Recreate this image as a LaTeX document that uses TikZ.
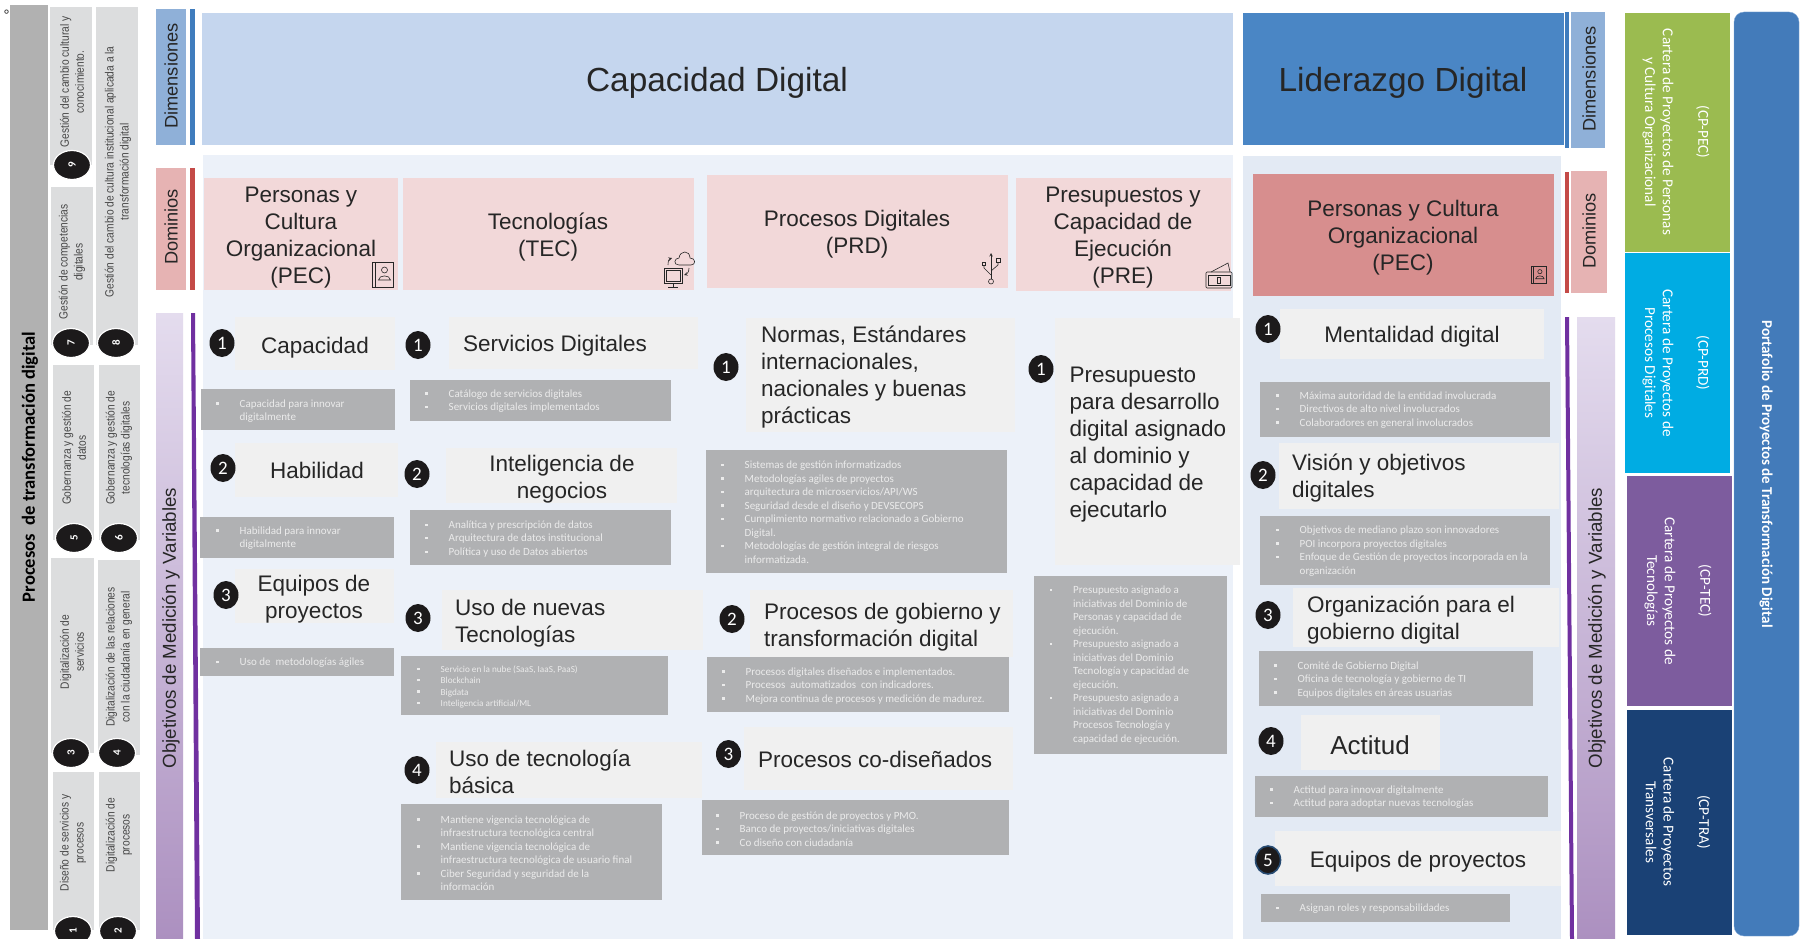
\documentclass[tikz,border=0pt]{standalone}
\usepackage{fontspec}
\usepackage{tikz}
\usetikzlibrary{shapes.geometric}
\setmainfont{Liberation Sans}
\newfontfamily\carlito{Carlito}
\newfontfamily\narrowfont[FakeStretch=0.85]{Liberation Sans}

\definecolor{inkdark}{HTML}{262626}
\definecolor{dimblue}{HTML}{8FB0D8}
\definecolor{dimbar}{HTML}{3F7CBD}
\definecolor{dompink}{HTML}{E6B3B3}
\definecolor{dombar}{HTML}{C44A47}
\definecolor{objbar}{HTML}{7030A0}
\definecolor{objtop}{HTML}{E4DCEE}
\definecolor{objbottom}{HTML}{AC90C0}
\definecolor{capheader}{HTML}{C5D6EE}
\definecolor{lidheader}{HTML}{4A86C5}
\definecolor{cappanel}{HTML}{ECF1F9}
\definecolor{lidpanel}{HTML}{E3EAF4}
\definecolor{pinkbox}{HTML}{F2D8D9}
\definecolor{rosebox}{HTML}{D78E8E}
\definecolor{titlegray}{HTML}{F0F0F0}
\definecolor{listgray}{HTML}{B0B1B3}
\definecolor{procgray}{HTML}{B1B1B1}
\definecolor{stepgray}{HTML}{DCDDDE}
\definecolor{numblack}{HTML}{1C1A1B}
\definecolor{cpgreen}{HTML}{9BBB50}
\definecolor{cpcyan}{HTML}{00ACE3}
\definecolor{cpviolet}{HTML}{7D5C9E}
\definecolor{cpnavy}{HTML}{1A4175}
\definecolor{portblue}{HTML}{437BBA}
\definecolor{portedge}{HTML}{7FA8D8}

\newcommand{\bul}{\makebox[23.5pt][l]{\rule[2.5pt]{2.4pt}{2.4pt}}}
\newcommand{\ind}{\hspace*{23.5pt}}

\begin{document}
\begin{tikzpicture}[x=1pt,y=-1pt]
  \tikzset{
    sidetext/.style={rotate=90, xshift=1pt, text=inkdark, font=\fontsize{18.2}{22}\selectfont, inner sep=0pt},
    objtext/.style={sidetext, font=\fontsize{18.7}{22}\selectfont},
    headtext/.style={yshift=-3.5pt, text=inkdark, font=\fontsize{33.4}{38}\selectfont, inner sep=0pt},
    domaintext/.style={yshift=-2.5pt, text=inkdark, align=center, font=\fontsize{22.5}{27}\selectfont, inner sep=0pt},
    titletext/.style={domaintext},
    titleleft/.style={domaintext, align=left},
    listtext/.style={yshift=-1pt, anchor=west, align=left, text=white!92!black, font=\carlito\fontsize{11}{13.5}\selectfont, inner sep=0pt},
    listsmall/.style={listtext, font=\carlito\fontsize{9.2}{11.3}\selectfont},
    numdot/.style={ellipse, fill=numblack, text=white, minimum width=25pt, minimum height=28pt, inner sep=0pt, font=\carlito\fontsize{19}{19}\selectfont},
    stepdot/.style={ellipse, rotate=90, fill=numblack, draw=white, line width=1.2pt, text=white, minimum width=29pt, minimum height=37pt, inner sep=0pt, font=\carlito\bfseries\fontsize{11}{11}\selectfont},
    steptext/.style={rotate=90, align=center, text=inkdark!85, font=\narrowfont\fontsize{12}{15}\selectfont, inner sep=0pt},
    carteratext/.style={rotate=-90, align=center, text=white, font=\carlito\fontsize{15.2}{17.6}\selectfont, inner sep=0pt},
    iconline/.style={draw=black!85, line width=0.6pt, fill=none},
    bookicon/.pic={
      \draw[iconline] (0,0) rectangle (21,25);
      \draw[iconline] (3,0) -- (3,25);
      \draw[iconline] (12.5,8) circle (3);
      \draw[iconline] (6.5,18) .. controls (7,12.5) and (18,12.5) .. (18.5,18) -- cycle;
    }
  }

  \clip (0,0) rectangle (1809,939);
  \fill[white] (0,0) rectangle (1809,939);

  \node[inner sep=0pt, font=\fontsize{15}{15}\selectfont, text=inkdark] (mark) at (6.5,15) {°};

  \fill[procgray] (10,5) rectangle (48,930);
  \node[rotate=90, inner sep=0pt, text=black, font=\carlito\bfseries\fontsize{18.6}{24}\selectfont] (proc) at (30,467) {Procesos\ \ de transformación digital};

  \fill[stepgray] (50,7) rectangle (92,165);
  \fill[stepgray] (51,187) rectangle (93,345);
  \fill[stepgray] (53,365) rectangle (94,540);
  \fill[stepgray] (51,558) rectangle (94,753);
  \fill[stepgray] (53,772) rectangle (94,930);
  \fill[stepgray] (96,7) rectangle (138,345);
  \fill[stepgray] (99,365) rectangle (140,540);
  \fill[stepgray] (98,560) rectangle (140,755);
  \fill[stepgray] (99,772) rectangle (140,930);

  \node[steptext] (s9) at (72,82) {Gestión del cambio cultural y\\conocimiento.};
  \node[steptext] (s7) at (72,262) {Gestión de competencias\\digitales};
  \node[steptext] (s5) at (74,448) {Gobernanza y gestión de\\datos};
  \node[steptext] (s3) at (72,652) {Digitalización de\\servicios};
  \node[steptext] (s1) at (73,843) {Diseño de servicios y\\procesos};
  \node[steptext] (s8) at (118,172) {Gestión del cambio de cultura institucional aplicada a la\\transformación digital};
  \node[steptext] (s6) at (119,448) {Gobernanza y gestión de\\tecnologías digitales};
  \node[steptext] (s4) at (119,657) {Digitalización de las relaciones\\con la ciudadanía en general};
  \node[steptext] (s2) at (119,835) {Digitalización de\\procesos};

  \node[stepdot] (d9) at (72,165) {9};
  \node[stepdot] (d7) at (71,343) {7};
  \node[stepdot] (d5) at (74,538) {5};
  \node[stepdot] (d3) at (71,753) {3};
  \node[stepdot] (d1) at (73,931) {1};
  \node[stepdot] (d8) at (116,343) {8};
  \node[stepdot] (d6) at (119,538) {6};
  \node[stepdot] (d4) at (117,753) {4};
  \node[stepdot] (d2) at (118,931) {2};

  \fill[dimblue] (156,9) rectangle (186,145);
  \fill[dimbar] (190,9) rectangle (195,145);
  \fill[dompink] (156,168) rectangle (186,290);
  \fill[dombar] (190,168) rectangle (195,290);
  \shade[top color=objtop, bottom color=objbottom] (156,313) rectangle (183,939);
  \fill[objbar] (191,313) -- (195,313) -- (200,939) -- (195,939) -- cycle;
  \node[sidetext] (dimleft) at (171,77) {Dimensiones};
  \node[sidetext] (domleft) at (171,228) {Dominios};
  \node[objtext] (objleft) at (171,629) {Objetivos de Medición y Variables};

  \fill[capheader] (202,13) rectangle (1233,145);
  \fill[lidheader] (1243,13) rectangle (1564,145);
  \node[headtext] (capdigital) at (717,79) {Capacidad Digital};
  \node[headtext] (liddigital) at (1403,79) {Liderazgo Digital};

  \fill[dimbar] (1565,12) rectangle (1569,148);
  \fill[dimblue] (1571,12) rectangle (1605,148);
  \fill[dombar] (1565,172) rectangle (1569,293);
  \fill[dompink] (1571,171) rectangle (1607,293);
  \shade[top color=objtop, bottom color=objbottom] (1577,317) rectangle (1615,939);
  \fill[objbar] (1565,317) -- (1569,317) -- (1574,939) -- (1570,939) -- cycle;
  \node[sidetext] (dimright) at (1589,80) {Dimensiones};
  \node[sidetext] (domright) at (1589,232) {Dominios};
  \node[objtext] (objright) at (1597,629) {Objetivos de Medición y Variables};

  \fill[cappanel] (203,155) rectangle (1233,939);
  \fill[lidpanel] (1243,156) rectangle (1561,939);

  \fill[pinkbox] (204,178) rectangle (398,290);
  \fill[pinkbox] (403,178) rectangle (694,290);
  \fill[pinkbox] (707,175) rectangle (1008,288);
  \fill[pinkbox] (1016,178) rectangle (1231,291);
  \fill[rosebox] (1253,174) rectangle (1554,296);
  \node[domaintext] (pec) at (301,235) {Personas y\\Cultura\\Organizacional\\(PEC)};
  \node[domaintext] (tec) at (548,235) {Tecnologías\\(TEC)};
  \node[domaintext] (prd) at (857,232) {Procesos Digitales\\(PRD)};
  \node[domaintext] (pre) at (1123,235) {Presupuestos y\\Capacidad de\\Ejecución\\(PRE)};
  \node[domaintext] (pecl) at (1403,235) {Personas y Cultura\\Organizacional\\(PEC)};

  \pic at (372,262) {bookicon};
  \pic[scale=0.71] at (1531,266) {bookicon};
  \draw[iconline] (664,268) rectangle (682,283);
  \draw[iconline] (666,270) rectangle (680,281);
  \draw[iconline] (673,283) -- (673,287);
  \draw[iconline] (668,287) -- (678,287);
  \draw[iconline] (679,265) .. controls (673,265) and (674,258) .. (679,258) .. controls (680,250) and (690,250) .. (690,258) .. controls (696,258) and (696,265) .. (691,265) -- cycle;
  \draw[iconline, ->, >=stealth] (668,265) .. controls (668,261) and (669,259) .. (672,258);
  \draw[iconline, ->, >=stealth] (689,268) .. controls (689,272) and (687,274) .. (684,275);
  \draw[iconline, ->, >=stealth] (991,279) -- (991,253);
  \draw[iconline] (991,281.5) circle (2.5);
  \draw[iconline] (991,275) -- (984,268) -- (984,265);
  \draw[iconline] (982.5,262) rectangle (985.5,265);
  \draw[iconline] (991,271) -- (998,265) -- (998,262);
  \draw[iconline] (996.5,258) rectangle (1000.5,262);
  \draw[iconline, rounded corners=1pt] (1206,272) rectangle (1232,288);
  \draw[iconline] (1208,275) rectangle (1230,285);
  \draw[iconline] (1211,272) -- (1228,263) -- (1230,272);
  \draw[iconline] (1217,277) rectangle (1220,283);

  \tikzset{titlebox/.style={fill=titlegray}, listbox/.style={fill=listgray}}

  \fill[titlebox] (235,317) rectangle (395,370);
  \fill[listbox] (201,389) rectangle (395,430);
  \node[numdot] (n11) at (222,343) {1};
  \node[titletext] (t11) at (315,345) {Capacidad};
  \node[listtext] (l11) at (216,410) {\bul Capacidad para innovar\\\ind digitalmente};

  \fill[titlebox] (235,443) rectangle (398,497);
  \fill[listbox] (200,517) rectangle (394,558);
  \node[numdot] (n12) at (223,468) {2};
  \node[titletext] (t12) at (317,468) {Habilidad};
  \node[listtext] (l12) at (216,537) {\bul Habilidad para innovar\\\ind digitalmente};

  \fill[titlebox] (235,569) rectangle (394,623);
  \fill[listbox] (200,648) rectangle (394,676);
  \node[numdot] (n13) at (226,595) {3};
  \node[titletext] (t13) at (314,597) {Equipos de\\proyectos};
  \node[listtext] (l13) at (216,662) {\bul Uso de\ \ metodologías ágiles};

  \fill[titlebox] (449,317) rectangle (698,369);
  \fill[listbox] (410,380) rectangle (671,421);
  \node[numdot] (n21) at (418,345) {1};
  \node[titletext] (t21) at (555,343) {Servicios Digitales};
  \node[listtext] (l21) at (425,400) {\bul Catálogo de servicios digitales\\\bul Servicios digitales implementados};

  \fill[titlebox] (446,448) rectangle (677,503);
  \fill[listbox] (410,510) rectangle (671,565);
  \node[numdot] (n22) at (417,474) {2};
  \node[titletext] (t22) at (562,477) {Inteligencia de\\negocios};
  \node[listtext] (l22) at (425,538) {\bul Analítica y prescripción de datos\\\bul Arquitectura de datos institucional\\\bul Política y uso de Datos abiertos};

  \fill[titlebox] (442,590) rectangle (703,650);
  \fill[listbox] (401,656) rectangle (668,715);
  \node[numdot] (n23) at (418,618) {3};
  \node[titleleft, anchor=west] (t23) at (455,621) {Uso de nuevas\\Tecnologías};
  \node[listsmall] (l23) at (417,686) {\bul Servicio en la nube (SaaS, IaaS, PaaS)\\\bul Blockchain\\\bul Bigdata\\\bul Inteligencia artificial/ML};

  \fill[titlebox] (436,742) rectangle (702,798);
  \fill[listbox] (401,804) rectangle (662,900);
  \node[numdot] (n24) at (417,770) {4};
  \node[titleleft, anchor=west] (t24) at (449,769) {Uso de tecnología\\básica};
  \node[listtext] (l24) at (417,852) {\bul Mantiene vigencia tecnológica de\\\ind infraestructura tecnológica central\\\bul Mantiene vigencia tecnológica de\\\ind infraestructura tecnológica de usuario final\\\bul Ciber Seguridad y seguridad de la\\\ind información};

  \fill[titlebox] (746,318) rectangle (1015,432);
  \fill[listbox] (706,450) rectangle (1007,573);
  \node[numdot] (n31) at (726,367) {1};
  \node[titleleft, anchor=west] (t31) at (761,375) {Normas, Estándares\\internacionales,\\nacionales y buenas\\prácticas};
  \node[listtext] (l31) at (721,511) {\bul Sistemas de gestión informatizados\\\bul Metodologías agiles de proyectos\\\bul arquitectura de microservicios/API/WS\\\bul Seguridad desde el diseño y DEVSECOPS\\\bul Cumplimiento normativo relacionado a Gobierno\\\ind Digital.\\\bul Metodologías de gestión integral de riesgos\\\ind informatizada.};

  \fill[titlebox] (750,590) rectangle (1013,657);
  \fill[listbox] (707,657) rectangle (1009,712);
  \node[numdot] (n32) at (732,619) {2};
  \node[titleleft, anchor=west] (t32) at (764,625) {Procesos de gobierno y\\transformación digital};
  \node[listtext] (l32) at (722,685) {\bul Procesos digitales diseñados e implementados.\\\bul Procesos\ \ automatizados\ \ con indicadores.\\\bul Mejora continua de procesos y medición de madurez.};

  \fill[titlebox] (744,727) rectangle (1013,790);
  \fill[listbox] (702,800) rectangle (1009,855);
  \node[numdot] (n33) at (728.5,754) {3};
  \node[titleleft, anchor=west] (t33) at (758,757) {Procesos co-diseñados};
  \node[listtext] (l33) at (716,828) {\bul Proceso de gestión de proyectos y PMO.\\\bul Banco de proyectos/iniciativas digitales\\\bul Co diseño con ciudadanía};

  \fill[titlebox] (1055,318) rectangle (1240,565);
  \fill[listbox] (1034,576) rectangle (1227,754);
  \node[numdot] (n41) at (1041,369) {1};
  \node[titleleft, anchor=west] (t41) at (1069.5,442) {Presupuesto\\para desarrollo\\digital asignado\\al dominio y\\capacidad de\\ejecutarlo};
  \node[listtext] (l41) at (1049.5,664) {\bul Presupuesto asignado a\\\ind iniciativas del Dominio de\\\ind Personas y capacidad de\\\ind ejecución.\\\bul Presupuesto asignado a\\\ind iniciativas del Dominio\\\ind Tecnología y capacidad de\\\ind ejecución.\\\bul Presupuesto asignado a\\\ind iniciativas del Dominio\\\ind Procesos Tecnología y\\\ind capacidad de ejecución.};

  \fill[titlebox] (1280,309) rectangle (1544,359);
  \fill[listbox] (1260,382) rectangle (1550,437);
  \node[numdot] (n51) at (1268,329) {1};
  \node[titletext] (t51) at (1412,334) {Mentalidad digital};
  \node[listtext] (l51) at (1276,409) {\bul Máxima autoridad de la entidad involucrada\\\bul Directivos de alto nivel involucrados\\\bul Colaboradores en general involucrados};

  \fill[titlebox] (1279,443) rectangle (1559,509);
  \fill[listbox] (1260,516) rectangle (1550,585);
  \node[numdot] (n52) at (1263,475) {2};
  \node[titleleft, anchor=west] (t52) at (1292,476) {Visión y objetivos\\digitales};
  \node[listtext] (l52) at (1276,550) {\bul Objetivos de mediano plazo son innovadores\\\bul POI incorpora proyectos digitales\\\bul Enfoque de Gestión de proyectos incorporada en la\\\ind organización};

  \fill[titlebox] (1293,588) rectangle (1559,647);
  \fill[listbox] (1259,651) rectangle (1533,706);
  \node[numdot] (n53) at (1268,615) {3};
  \node[titleleft, anchor=west] (t53) at (1307,618) {Organización para el\\gobierno digital};
  \node[listtext] (l53) at (1274,679) {\bul Comité de Gobierno Digital\\\bul Oficina de tecnología y gobierno de TI\\\bul Equipos digitales en áreas usuarias};

  \fill[titlebox] (1301,715) rectangle (1440,770);
  \fill[listbox] (1255,776) rectangle (1548,817);
  \node[numdot] (n54) at (1271,741) {4};
  \node[titletext, font=\fontsize{26}{30}\selectfont] (t54) at (1370,743) {Actitud};
  \node[listtext] (l54) at (1270,796) {\bul Actitud para innovar digitalmente\\\bul Actitud para adoptar nuevas tecnologías};

  \fill[titlebox] (1275,831) rectangle (1561,886);
  \fill[listbox] (1261,894) rectangle (1510,922);
  \node[numdot, draw=dimbar!60!black, line width=1.6pt] (n55) at (1268,860) {5};
  \node[titletext] (t55) at (1418,859) {Equipos de proyectos};
  \node[listtext] (l55) at (1276,908) {\bul Asignan roles y responsabilidades};

  \fill[cpgreen] (1625,13) rectangle (1730,252);
  \fill[cpcyan] (1625,253) rectangle (1730,473);
  \fill[cpviolet] (1627,476) rectangle (1732,706);
  \fill[cpnavy] (1627,710) rectangle (1732,935);
  \node[carteratext] (cppec) at (1676,132) {(CP-PEC)\\[18pt]Cartera de Proyectos de Personas\\y Cultura Organizacional};
  \node[carteratext] (cpprd) at (1676,363) {(CP-PRD)\\[18pt]Cartera de Proyectos de\\Procesos Digitales};
  \node[carteratext] (cptec) at (1678,591) {(CP-TEC)\\[18pt]Cartera de Proyectos de\\Tecnologías};
  \node[carteratext] (cptra) at (1678,822) {(CP-TRA)\\[18pt]Cartera de Proyectos\\Transversales};

  \fill[portblue, draw=portedge, rounded corners=10pt] (1734,12) rectangle (1799,936);
  \node[rotate=-90, inner sep=0pt, text=white, font=\carlito\bfseries\fontsize{15}{16}\selectfont] (portfolio) at (1766,474) {Portafolio de Proyectos de Transformación Digital};
\end{tikzpicture}
\end{document}
